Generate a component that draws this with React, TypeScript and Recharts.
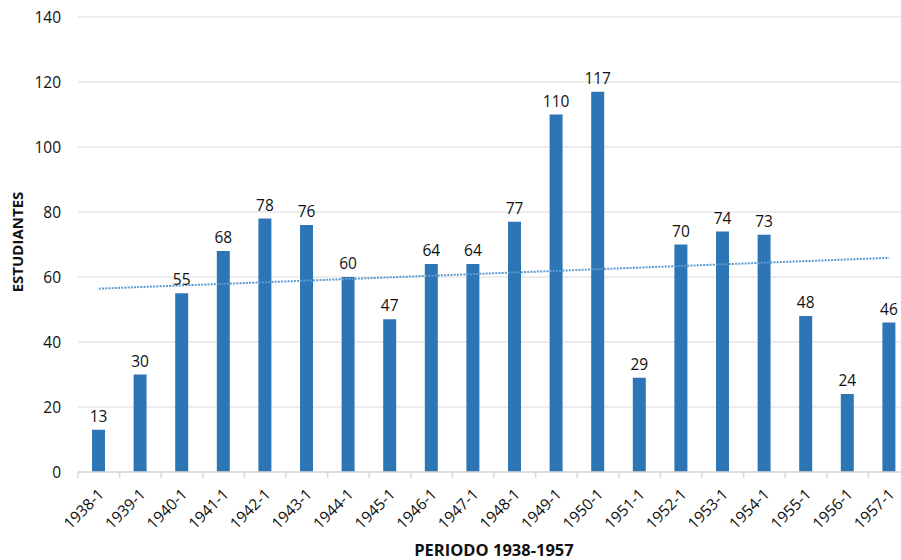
import { ComposedChart, Bar, Line, XAxis, YAxis, CartesianGrid, LabelList, Label } from "recharts";

const periods = [
  "1938-1", "1939-1", "1940-1", "1941-1", "1942-1", "1943-1", "1944-1",
  "1945-1", "1946-1", "1947-1", "1948-1", "1949-1", "1950-1", "1951-1",
  "1952-1", "1953-1", "1954-1", "1955-1", "1956-1", "1957-1",
];
const students = [13, 30, 55, 68, 78, 76, 60, 47, 64, 64, 77, 110, 117, 29, 70, 74, 73, 48, 24, 46];
// linear trend line, read at the first and last period
const trendEnds = [56.4, 65.9];
const yTicks = [0, 20, 40, 60, 80, 100, 120, 140];

const data = periods.map((p, i) => ({
  period: p,
  students: students[i],
  trend: i === 0 ? trendEnds[0] : i === periods.length - 1 ? trendEnds[1] : null,
}));

const FONT = "'Open Sans', sans-serif";
const BAND = 41.6;

function PeriodTick(props: any) {
  const { x, y, payload, index } = props;
  const last = index === periods.length - 1;
  return (
    <g>
      <line x1={x - BAND / 2} y1={y - 19} x2={x - BAND / 2} y2={y - 13} stroke="#d9d9d9" strokeWidth={1.5} />
      {last && <line x1={x + BAND / 2} y1={y - 19} x2={x + BAND / 2} y2={y - 13} stroke="#d9d9d9" strokeWidth={1.5} />}
      <text
        x={x + 2}
        y={y}
        dy={6}
        textAnchor="end"
        transform={`rotate(-45, ${x + 2}, ${y})`}
        fontSize={15.5}
        fontFamily={FONT}
        fill="#111"
      >
        {payload.value}
      </text>
    </g>
  );
}

export default function App() {
  return (
    <div
      style={{
        position: "fixed",
        left: 0,
        top: 0,
        width: 901,
        height: 560,
        overflow: "hidden",
        background: "#fff",
      }}
    >
      <ComposedChart width={920} height={560} data={data} margin={{ top: 17, right: 10, left: 0, bottom: 0 }} barSize={13}>
        <CartesianGrid vertical={false} stroke="#d9d9d9" strokeWidth={1.2} />
        <XAxis
          dataKey="period"
          height={88}
          interval={0}
          axisLine={{ stroke: "#d9d9d9", strokeWidth: 1.5 }}
          tickLine={false}
          tickSize={0}
          tickMargin={19}
          tick={<PeriodTick />}
        >
          <Label
            value="PERIODO 1938-1957"
            position="insideBottom"
            offset={4}
            style={{ fontFamily: FONT, fontSize: 16.5, fontWeight: 700, fill: "#111" }}
          />
        </XAxis>
        <YAxis
          width={78}
          domain={[0, 140]}
          ticks={yTicks}
          axisLine={false}
          tickLine={false}
          tickSize={0}
          tickMargin={17}
          tick={{ fontSize: 15.5, fontFamily: FONT, fill: "#111" }}
        />
        <Bar dataKey="students" fill="#2e75b6" isAnimationActive={false}>
          <LabelList dataKey="students" position="top" offset={8} style={{ fontSize: 15.5, fontFamily: FONT, fill: "#111" }} />
        </Bar>
        <Line
          dataKey="trend"
          type="linear"
          connectNulls
          dot={false}
          stroke="#5b9bd5"
          strokeWidth={2}
          strokeDasharray="2 1.2"
          isAnimationActive={false}
        />
      </ComposedChart>
      <div
        style={{
          position: "absolute",
          left: 17,
          top: 242,
          transform: "translate(-50%, -50%) rotate(-90deg)",
          fontFamily: FONT,
          fontSize: 15,
          fontWeight: 700,
          color: "#111",
          whiteSpace: "nowrap",
        }}
      >
        ESTUDIANTES
      </div>
    </div>
  );
}
